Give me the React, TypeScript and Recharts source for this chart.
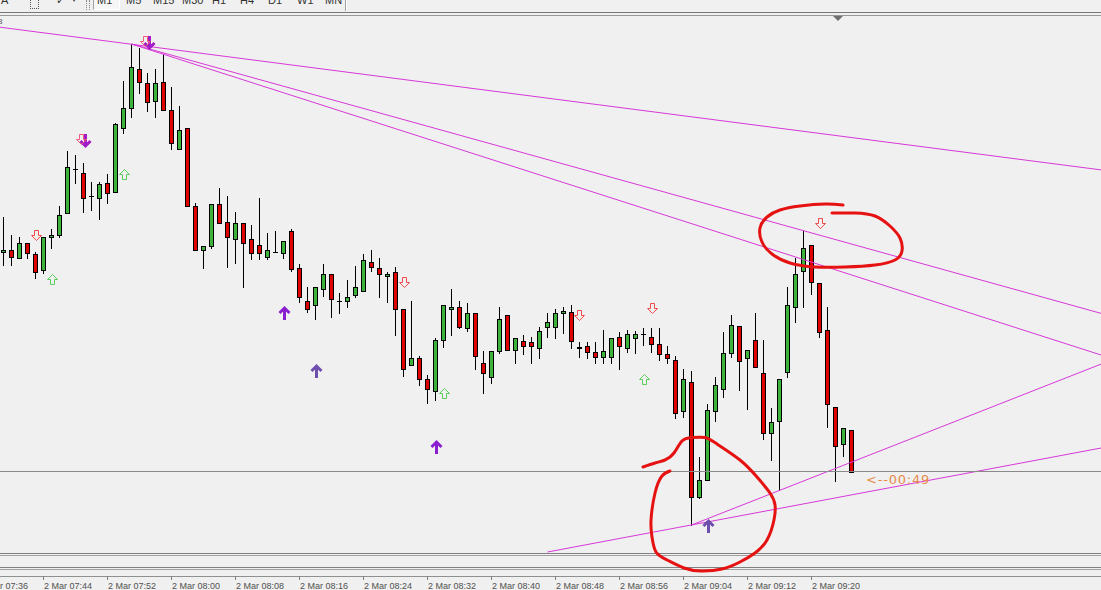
import { ComposedChart, XAxis, YAxis, Bar, Scatter, Line, ReferenceLine } from "recharts"

// 1-minute bars, first bar at 2 Mar 07:39
const START_MIN = 7 * 60 + 39

const opens = [
  347.7, 350, 342, 357, 346, 330, 362.7, 365, 386.7, 430.7,
  427.3, 404, 401.7, 417.3, 407.7, 471.7, 491.7, 530.7, 517.3, 499.3,
  518.3, 490, 450.7, 471.7, 394, 350, 354.3, 396, 378.3, 360.7,
  376.7, 360.7, 355, 343.3, 348, 347.3, 369, 331.7, 299, 294.7,
  310.7, 325.7, 298.7, 298.7, 304.7, 308.7, 337.7, 331.7, 323.7, 327.7,
  290.7, 234.7, 241.7, 220.7, 209, 260, 290.7, 292.7, 271.7, 286.7,
  236.7, 222.7, 249.3, 285, 250, 259.3, 257.7, 251.7, 273.3, 273.3,
  286.7, 288.3, 251.7, 254, 247.7, 243.3, 243.3, 263.3, 251.7, 261.7,
  266, 263.3, 255.7, 246, 240, 189.3, 218.3, 103.3, 120, 189.3,
  210.7, 247.3, 274, 241.7, 260, 226.7, 167.3, 179.3, 228.3, 292.7,
  329.3, 355, 317.3, 270, 193.3, 156, 170,
]
const highs = [
  383.3, 365, 363, 357, 348.3, 363, 371, 394, 449.3, 445,
  436.7, 418.3, 418.3, 426, 477.3, 519.3, 556, 551.7, 527.3, 530.7,
  546, 512.7, 494, 471.7, 397.3, 354.3, 396, 411.7, 404, 388.3,
  376.7, 375, 401.7, 367.3, 369, 359, 370.7, 335.7, 312.7, 312.7,
  336, 325.7, 306.7, 320, 334, 346, 350, 341.7, 327.7, 333.3,
  290.7, 299.3, 244, 225, 261.7, 294.7, 310.7, 299.3, 296.7, 286.7,
  249.3, 249.3, 292.7, 285, 261.7, 265, 262.7, 273.3, 286.7, 290.7,
  292.7, 295, 257.7, 258.3, 258.3, 270, 261.7, 268.3, 270, 269.3,
  271.7, 271.7, 271.7, 254, 244, 231, 229, 142.7, 196, 222.7,
  268.3, 285, 274, 250, 286.7, 260, 191.7, 220.7, 312.7, 341.7,
  369.3, 355, 317.3, 292.7, 193.3, 171.7, 170,
]
const lows = [
  335, 335, 342, 342, 322, 327.3, 352, 362.7, 386.7, 417.3,
  388.3, 390, 380.7, 397.3, 407.7, 466.7, 483.3, 506.7, 489.3, 483.3,
  490, 450.7, 450.7, 394, 350, 331.7, 351.7, 376.7, 333.3, 337.3,
  312.7, 340.7, 340.7, 340.7, 348, 341.7, 329.3, 298.3, 288.3, 280.7,
  304, 282.7, 286.7, 292.7, 302.7, 308.7, 329.3, 302.7, 298.3, 265,
  224, 234.7, 215, 197.3, 200, 253.3, 265, 271.7, 269.3, 230.7,
  206.7, 216.7, 247.3, 250, 236.7, 246, 236.7, 241.7, 263.3, 261.7,
  267.3, 251.7, 243.3, 241.7, 237.3, 236.7, 237.3, 230.7, 248.3, 247.3,
  255, 248.3, 240, 236.7, 181.7, 183.3, 75, 101.7, 120, 179.3,
  202.7, 243.3, 210, 190.7, 232.7, 160.7, 140, 109.5, 222.7, 278.3,
  292.7, 306, 263.3, 173.3, 119.3, 144.3, 128.5,
]
const closes = [
  350, 343.3, 357, 347.3, 327.7, 362.7, 365, 385, 432.7, 430.7,
  401.7, 404, 415.7, 407.3, 475.7, 491.7, 532.7, 518.3, 497.7, 516.7,
  490, 456.7, 470, 394, 350, 354.3, 396, 376.7, 362.7, 376.7,
  356.7, 347.3, 347.3, 350, 348, 359, 330.7, 302.7, 290.7, 312.7,
  325.7, 300.7, 298.7, 302.7, 312.7, 340, 333.3, 325.7, 325.7, 290.7,
  230.7, 241.7, 220.7, 210.7, 260, 294.7, 292.7, 273.3, 286.7, 244,
  226.7, 249.3, 280.7, 250, 261.7, 254, 254, 269.3, 278.3, 286.7,
  289, 259.3, 253.3, 247.7, 243.3, 249.3, 261.7, 254, 266, 266,
  266, 256, 246, 241.7, 187.5, 220.7, 103.3, 120, 190, 215,
  247.3, 275, 239.3, 250, 232.7, 167.3, 178.3, 220.7, 295, 326,
  351.7, 317.7, 267.7, 195.7, 154.3, 171.7, 128.5,
]

const tickLabels = [
  "2 Mar 07:36", "2 Mar 07:44", "2 Mar 07:52", "2 Mar 08:00", "2 Mar 08:08",
  "2 Mar 08:16", "2 Mar 08:24", "2 Mar 08:32", "2 Mar 08:40", "2 Mar 08:48",
  "2 Mar 08:56", "2 Mar 09:04", "2 Mar 09:12", "2 Mar 09:20",
]

// signal arrows: [bar index, price]
const sellArrows = [[4, 365], [50, 318.3], [72, 285], [81, 292], [102, 377]]
const buyArrows = [[6, 321.5], [15, 426], [55, 207], [80, 221]]
const bigSellArrows = [[10, 459], [18, 557]]
const bigBuyArrows = [[35, 287], [39, 229.5], [54, 153.3], [88, 74]]

// hand drawn trend lines: [[i1, p1], [i2, p2]]
const trendLines = [
  [[-4, 576.5], [140, 427.2]],
  [[16, 556], [140, 280.4]],
  [[16, 556], [140, 237.8]],
  [[68, 48], [140, 156.2]],
  [[86, 75], [140, 244.7]],
]

// red marker scribbles
const topScribble = [
  [103.56, 387], [106.44, 387], [108.94, 384], [110.81, 374], [112.06, 362], [112.31, 349],
  [111.44, 340], [108.94, 335], [105.19, 333], [101.44, 333], [98.31, 337], [96.06, 346],
  [94.81, 358], [94.56, 372], [95.44, 383], [97.06, 390], [99.56, 394], [102.69, 396], [104.94, 395],
]
const bottomScribble = [
  [79.94, 133], [81.44, 137], [82.69, 140], [83.81, 147], [84.81, 159], [86.06, 162.5],
  [87.69, 162.5], [89.19, 156], [92.06, 140], [94.19, 123], [95.81, 107], [96.44, 95],
  [96.31, 80], [95.44, 60], [93.94, 47], [92.06, 38], [89.81, 31], [87.19, 29],
  [85.06, 32], [82.94, 40], [81.56, 48], [81.06, 63], [80.94, 80], [81.44, 107],
  [82.31, 124], [83.31, 129],
]

const candles = opens.map((o, i) => ({ i, o, h: highs[i], l: lows[i], c: closes[i] }))
const tickIndex = tickLabels.map((s) => {
  const [h, m] = s.slice(6).split(":").map(Number)
  return h * 60 + m - START_MIN
})
const toPoints = (arr: number[][]) => arr.map(([i, v]) => ({ i, v }))

const UP = "#3cb43c"
const DOWN = "#e00000"
const TREND = "#d838d8"
const SCRIBBLE = "#e61212"

function Candle(props: any) {
  const { x, y, width, height, payload } = props
  if (x == null || !payload) return null
  const top = Math.min(y, y + height)
  const bot = Math.max(y, y + height)
  const span = payload.h - payload.l || 1
  const py = (p: number) => top + ((payload.h - p) / span) * (bot - top)
  const cx = Math.floor(x + width / 2) + 0.5
  const yo = py(payload.o)
  const yc = py(payload.c)
  const bTop = Math.round(Math.min(yo, yc)) + 0.5
  const bBot = Math.round(Math.max(yo, yc)) + 0.5
  return (
    <g>
      <line x1={cx} y1={Math.round(top)} x2={cx} y2={Math.round(bot) + 1} stroke="#000" />
      {bBot - bTop < 1 ? (
        <line x1={cx - 2.5} y1={bTop} x2={cx + 2.5} y2={bTop} stroke="#000" />
      ) : (
        <rect
          x={cx - 2}
          y={bTop}
          width={4}
          height={bBot - bTop}
          fill={payload.c > payload.o ? UP : DOWN}
          stroke="#000"
        />
      )}
    </g>
  )
}

function hollow(cx: number, cy: number, dir: number) {
  const x = Math.round(cx) + 0.5
  const y = Math.round(cy) + 0.5
  const d = dir
  return `M${x - 2} ${y - 5 * d} H${x + 2} V${y} H${x + 5} L${x} ${y + 5 * d} L${x - 5} ${y} H${x - 2} Z`
}

function SellArrow(props: any) {
  return <path d={hollow(props.cx, props.cy, 1)} fill="none" stroke="#f04a4a" />
}
function BuyArrow(props: any) {
  return <path d={hollow(props.cx, props.cy, -1)} fill="none" stroke="#5ccc5c" />
}
function BigArrow({ cx, cy, dir, color }: { cx: number; cy: number; dir: number; color: string }) {
  const x = Math.round(cx) + 0.5
  const y = Math.round(cy)
  return (
    <g stroke={color} strokeWidth={3} fill="none">
      <path d={`M${x} ${y + 7 * dir} V${y - 5 * dir}`} />
      <path d={`M${x - 5} ${y} L${x} ${y - 5 * dir} L${x + 5} ${y}`} strokeLinejoin="miter" />
    </g>
  )
}
function BigSell(props: any) {
  return (
    <g>
      <BigArrow cx={props.cx + 1} cy={props.cy} dir={-1} color="#a21cc8" />
      <path d={hollow(props.cx - 3, props.cy - 2, 1)} fill="none" stroke="#f05a7a" />
    </g>
  )
}
function BigBuy(props: any) {
  const tinted = props.payload.i === 39 || props.payload.i === 88
  return <BigArrow cx={props.cx} cy={props.cy} dir={1} color={tinted ? "#6e4fae" : "#8a1fd0"} />
}

function TimeTick(props: any) {
  const { x, y, payload } = props
  const label = tickLabels[tickIndex.indexOf(payload.value)]
  return (
    <g>
      <line x1={x} y1={y} x2={x} y2={y + 4} stroke="#808080" />
      <text x={x + 0.5} y={y + 12.5} fontSize={9} fill="#505050" fontFamily="'Liberation Sans', Arial, sans-serif">
        {label}
      </text>
    </g>
  )
}

const hLine = (top: number, color: string) => (
  <div style={{ position: "absolute", left: 0, top, width: 1101, height: 1, background: color }} />
)

const tfButtons = [
  ["M1", 97], ["M5", 126], ["M15", 153], ["M30", 182], ["H1", 212],
  ["H4", 240], ["D1", 268], ["W1", 297], ["MN", 325],
]

export default function App() {
  const last = closes[closes.length - 1]
  return (
    <div
      style={{
        position: "absolute",
        left: 0,
        top: 0,
        width: 1101,
        height: 590,
        overflow: "hidden",
        background: "#f0f0f0",
        fontFamily: "'Liberation Sans', Arial, sans-serif",
      }}
    >
      {/* toolbar strip, mostly cut off */}
      <div style={{ position: "absolute", left: 1, top: -6, fontSize: 11, color: "#333" }}>A</div>
      <div style={{ position: "absolute", left: 30, top: -4, width: 7, height: 11, border: "1px dotted #555" }} />
      <div style={{ position: "absolute", left: 56, top: -6, fontSize: 11, color: "#333" }}>✓</div>
      <div style={{ position: "absolute", left: 72, top: -5, fontSize: 8, color: "#333" }}>▾</div>
      <div style={{ position: "absolute", left: 86, top: 0, width: 2, height: 10, borderLeft: "1px dotted #888", borderRight: "1px dotted #888" }} />
      <div
        style={{
          position: "absolute",
          left: 93,
          top: -3,
          width: 25,
          height: 11,
          borderTop: "1px solid #a0a0a0",
          borderLeft: "1px solid #a0a0a0",
          borderRight: "1px solid #fff",
          borderBottom: "1px solid #fff",
          background: "#f6f6f6",
        }}
      />
      {tfButtons.map(([t, x]) => (
        <div key={t as string} style={{ position: "absolute", left: x as number, top: -6, fontSize: 11, color: "#333" }}>
          {t}
        </div>
      ))}
      <div style={{ position: "absolute", left: 345, top: 0, width: 1, height: 11, background: "#a0a0a0" }} />
      <div style={{ position: "absolute", left: 346, top: 0, width: 1, height: 11, background: "#fff" }} />
      {hLine(12, "#777")}
      {hLine(15, "#999")}
      <div style={{ position: "absolute", left: -2, top: 17, fontSize: 8, color: "#555" }}>8</div>
      <div
        style={{
          position: "absolute",
          left: 833,
          top: 16,
          width: 0,
          height: 0,
          borderLeft: "5px solid transparent",
          borderRight: "5px solid transparent",
          borderTop: "5px solid #707070",
        }}
      />
      {hLine(553, "#808080")}
      {hLine(555, "#a0a0a0")}
      {hLine(567, "#808080")}
      {hLine(569, "#a0a0a0")}
      {hLine(576, "#909090")}

      <div style={{ position: "absolute", left: -24, top: 0 }}>
        <ComposedChart width={1125} height={590} data={candles} margin={{ top: 16, right: 0, bottom: 0, left: 0 }}>
          <XAxis
            dataKey="i"
            type="number"
            domain={[-3.4375, 137.1875]}
            allowDataOverflow
            ticks={tickIndex}
            interval={0}
            tickSize={0}
            tickMargin={0}
            tickLine={false}
            axisLine={false}
            height={14}
            tick={TimeTick}
          />
          <YAxis type="number" domain={[24, 584]} allowDataOverflow hide />
          {trendLines.map((seg, k) => (
            <ReferenceLine
              key={k}
              segment={[{ x: seg[0][0], y: seg[0][1] }, { x: seg[1][0], y: seg[1][1] }]}
              stroke={TREND}
              strokeWidth={1}
              ifOverflow="hidden"
            />
          ))}
          <ReferenceLine y={last} stroke="#8a8a8a" ifOverflow="hidden" />
          <Bar dataKey={(d: any) => [d.l, d.h]} barSize={5} shape={<Candle />} isAnimationActive={false} />
          <Scatter data={toPoints(sellArrows)} dataKey="v" shape={<SellArrow />} isAnimationActive={false} />
          <Scatter data={toPoints(buyArrows)} dataKey="v" shape={<BuyArrow />} isAnimationActive={false} />
          <Scatter data={toPoints(bigSellArrows)} dataKey="v" shape={<BigSell />} isAnimationActive={false} />
          <Scatter data={toPoints(bigBuyArrows)} dataKey="v" shape={<BigBuy />} isAnimationActive={false} />
          <Line
            data={toPoints(topScribble)}
            dataKey="v"
            type="natural"
            stroke={SCRIBBLE}
            strokeWidth={3}
            strokeLinecap="round"
            dot={false}
            activeDot={false}
            isAnimationActive={false}
          />
          <Line
            data={toPoints(bottomScribble)}
            dataKey="v"
            type="natural"
            stroke={SCRIBBLE}
            strokeWidth={3}
            strokeLinecap="round"
            dot={false}
            activeDot={false}
            isAnimationActive={false}
          />
        </ComposedChart>
      </div>

      <div
        style={{
          position: "absolute",
          left: 866,
          top: 473,
          fontSize: 13,
          lineHeight: "13px",
          letterSpacing: 0.8,
          color: "#e88a4a",
          fontFamily: "'DejaVu Sans', sans-serif",
        }}
      >
        {"<--00:49"}
      </div>
    </div>
  )
}
